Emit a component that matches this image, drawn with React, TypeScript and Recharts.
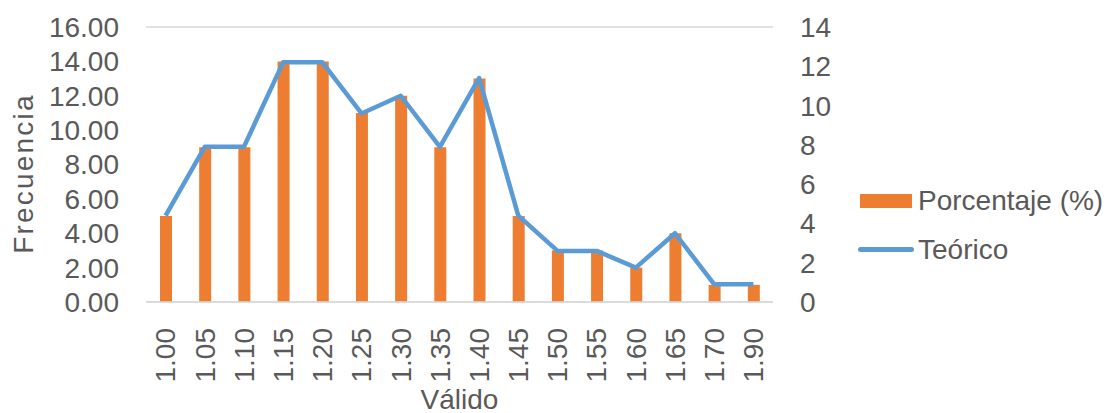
import { ComposedChart, Bar, Line, XAxis, YAxis, CartesianGrid, Label } from 'recharts'

const categories = ['1.00', '1.05', '1.10', '1.15', '1.20', '1.25', '1.30', '1.35', '1.40', '1.45', '1.50', '1.55', '1.60', '1.65', '1.70', '1.90']
const porcentaje = [5, 9, 9, 14, 14, 11, 12, 9, 13, 5, 3, 3, 2, 4, 1, 1]
const teorico = [4.4, 7.9, 7.9, 12.2, 12.2, 9.6, 10.5, 7.9, 11.4, 4.4, 2.6, 2.6, 1.75, 3.5, 0.9, 0.9]
const leftTicks = [0, 2, 4, 6, 8, 10, 12, 14, 16]
const rightTicks = [0, 2, 4, 6, 8, 10, 12, 14]

const data = categories.map((c, i) => ({ valido: c, porcentaje: porcentaje[i], teorico: teorico[i] }))

const TEXT = '#595959'
const FONT = 'Liberation Sans, Arial, sans-serif'
const BAR_COLOR = '#ED7D31'
const LINE_COLOR = '#5B9BD5'

function XTick({ x, y, payload }: any) {
  return (
    <text
      x={x}
      y={y + 18}
      dy="0.35em"
      textAnchor="end"
      transform={`rotate(-90, ${x}, ${y + 18})`}
      fill={TEXT}
      fontSize={28}
      fontFamily={FONT}
    >
      {payload.value}
    </text>
  )
}

function YTitle({ viewBox }: any) {
  const cy = viewBox.y + viewBox.height / 2 + 9
  return (
    <text
      x={33}
      y={cy}
      textAnchor="middle"
      transform={`rotate(-90, 33, ${cy})`}
      fill={TEXT}
      fontSize={28}
      fontFamily={FONT}
      letterSpacing={2.2}
    >
      Frecuencia
    </text>
  )
}

export default function App() {
  return (
    <div style={{ position: 'absolute', left: 0, top: 0, width: 1113, height: 413, background: '#fff' }}>
      <ComposedChart
        width={1113}
        height={413}
        data={data}
        margin={{ top: 27, right: 280, bottom: 0, left: 0 }}
      >
        <CartesianGrid vertical={false} stroke="#D9D9D9" strokeWidth={1.5} />
        <XAxis
          dataKey="valido"
          height={111}
          interval={0}
          tick={<XTick />}
          tickLine={false}
          axisLine={{ stroke: '#D9D9D9', strokeWidth: 1.5 }}
        >
          <Label value="Válido" position="insideBottom" offset={4} fill={TEXT} fontSize={28} fontFamily={FONT} />
        </XAxis>
        <YAxis
          yAxisId="left"
          width={146}
          domain={[0, 16]}
          ticks={leftTicks}
          interval={0}
          tickFormatter={(v: number) => v.toFixed(2)}
          tick={{ fill: TEXT, fontSize: 28, fontFamily: FONT }}
          tickMargin={21}
          tickLine={false}
          axisLine={false}
        >
          <Label content={<YTitle />} />
        </YAxis>
        <YAxis
          yAxisId="right"
          orientation="right"
          width={60}
          domain={[0, 14]}
          ticks={rightTicks}
          interval={0}
          tick={{ fill: TEXT, fontSize: 28, fontFamily: FONT, textAnchor: 'start' }}
          tickMargin={21}
          tickLine={false}
          axisLine={false}
        />
        <Bar
          yAxisId="left"
          dataKey="porcentaje"
          name="Porcentaje (%)"
          fill={BAR_COLOR}
          barSize={12}
          isAnimationActive={false}
        />
        <Line
          yAxisId="right"
          dataKey="teorico"
          name="Teórico"
          type="linear"
          stroke={LINE_COLOR}
          strokeWidth={4.5}
          strokeLinejoin="round"
          dot={false}
          activeDot={false}
          isAnimationActive={false}
        />
      </ComposedChart>

      {/* legend drawn by hand so it does not eat into the plot area */}
      <div style={{ position: 'absolute', left: 858, top: 176, fontFamily: FONT, fontSize: 28, color: TEXT }}>
        <div style={{ display: 'flex', alignItems: 'center', height: 49 }}>
          <div style={{ width: 52, height: 14, background: BAR_COLOR, margin: '0 2px 0 2px' }} />
          <span style={{ marginLeft: 4 }}>Porcentaje (%)</span>
        </div>
        <div style={{ display: 'flex', alignItems: 'center', height: 49 }}>
          <div style={{ width: 56, height: 4.5, background: LINE_COLOR, borderRadius: 3 }} />
          <span style={{ marginLeft: 4 }}>Teórico</span>
        </div>
      </div>
    </div>
  )
}
